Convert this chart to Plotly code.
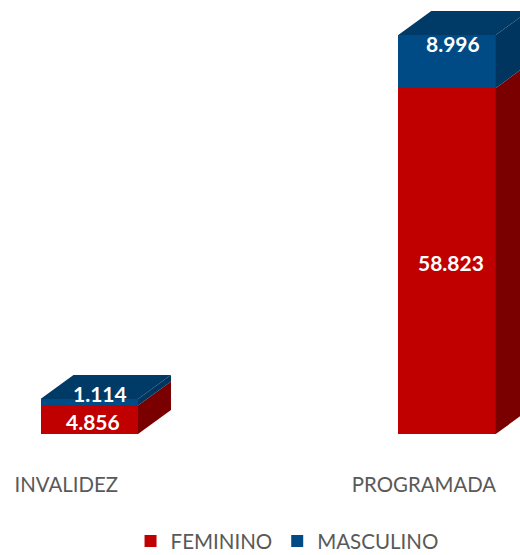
import plotly.graph_objects as go

categories = ["INVALIDEZ", "PROGRAMADA"]
feminino = [4856, 58823]
masculino = [1114, 8996]
feminino_labels = ["4.856", "58.823"]
masculino_labels = ["1.114", "8.996"]

RED, BLUE = "#C00000", "#004B85"
RED_SIDE, BLUE_SIDE, BLUE_TOP = "#7A0000", "#003560", "#003A66"

W, H = 520, 555
BASE_PX, TOP_AXIS_PX = 434, 0
AXIS_BOTTOM_PX = 471
PX_PER_UNIT = 346 / 58823
PX_PER_CAT = 357.75
X0_PX = 89.25
BAR_W = 97.5 / PX_PER_CAT
DX = 33 / PX_PER_CAT
DY = 24 / PX_PER_UNIT
TICK_OFFSET = -23 / PX_PER_CAT

fig = go.Figure()
xs = list(range(len(categories)))
fig.add_bar(x=xs, y=feminino, name="FEMININO", marker=dict(color=RED, line_width=0), width=BAR_W)
fig.add_bar(x=xs, y=masculino, name="MASCULINO", marker=dict(color=BLUE, line_width=0), width=BAR_W)


def poly(px, py, color):
    fig.add_trace(go.Scatter(x=px, y=py, mode="lines", fill="toself", fillcolor=color,
                             line=dict(width=0, color=color), showlegend=False, hoverinfo="skip"))


for i in xs:
    l, r = i - BAR_W / 2, i + BAR_W / 2
    f, t = feminino[i], feminino[i] + masculino[i]
    poly([r, r + DX, r + DX, r, r], [0, DY, f + DY, f, 0], RED_SIDE)
    poly([r, r + DX, r + DX, r, r], [f, f + DY, t + DY, t, f], BLUE_SIDE)
    poly([l, l + DX, r + DX, r, l], [t, t + DY, t + DY, t, t], BLUE_TOP)
    fig.add_annotation(x=i, y=f / 2, text=f"<b>{feminino_labels[i]}</b>", showarrow=False,
                       xshift=4, yshift=-1 if i == 1 else -2,
                       font=dict(family="Lato", size=21, color="white"))
    fig.add_annotation(x=i, y=f + masculino[i] / 2, text=f"<b>{masculino_labels[i]}</b>", showarrow=False,
                       xshift=11 if i == 0 else 6, yshift=9 if i == 0 else 18,
                       font=dict(family="Lato", size=21, color="white"))

fig.update_layout(
    width=W, height=H, margin=dict(l=0, r=0, t=0, b=0, autoexpand=False), barmode="stack",
    paper_bgcolor="white", plot_bgcolor="white",
    font=dict(family="Lato", color="#595959"),
    xaxis=dict(range=[-X0_PX / PX_PER_CAT, (W - X0_PX) / PX_PER_CAT],
               tickmode="array", tickvals=[i + TICK_OFFSET for i in xs], ticktext=categories,
               showgrid=False, zeroline=False, showline=False, ticks="",
               tickfont=dict(family="Lato", size=20.4, color="#595959")),
    yaxis=dict(domain=[(H - AXIS_BOTTOM_PX) / H, 1],
               range=[(BASE_PX - AXIS_BOTTOM_PX) / PX_PER_UNIT, (BASE_PX - TOP_AXIS_PX) / PX_PER_UNIT],
               visible=False),
    legend=dict(orientation="h", x=0.552, xanchor="center", y=0.025, yanchor="middle",
                font=dict(family="Lato", size=20.5, color="#595959"), traceorder="normal",
                itemclick=False, itemdoubleclick=False),
)
fig.write_html("out.html", config={"displayModeBar": False},
               post_script="document.body.style.margin='0';document.documentElement.style.overflow='hidden';")
